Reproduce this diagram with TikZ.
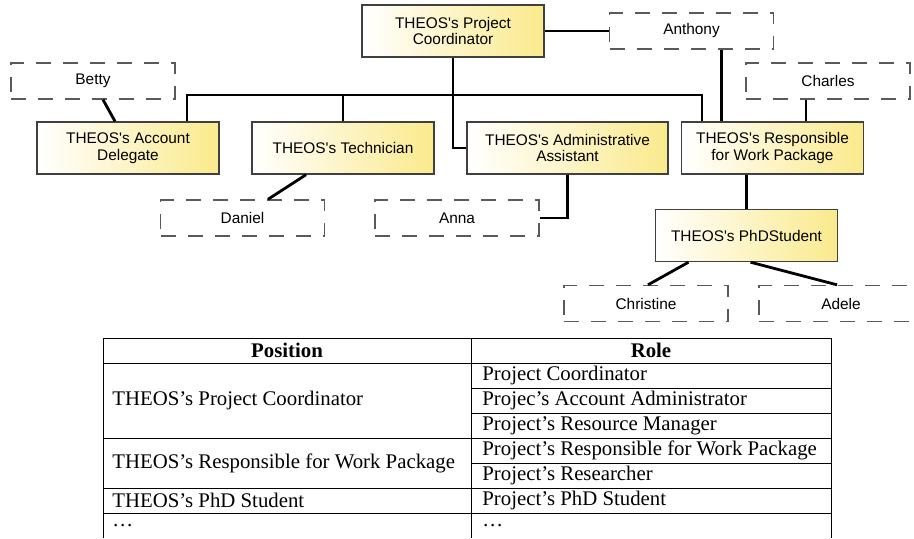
\documentclass[tikz,border=0pt]{standalone}
\usepackage{fontspec}
\setmainfont{Liberation Serif}
\newfontfamily\boxfont{Liberation Sans}

\definecolor{boxyellow}{RGB}{250,234,140}
\definecolor{boxedge}{RGB}{64,64,64}
\definecolor{dashgray}{RGB}{90,90,90}

\begin{document}
\begin{tikzpicture}[x=0.5pt, y=-0.5pt,
        person/.style={draw=boxedge, line width=0.7pt, left color=white, right color=boxyellow,
            minimum width=91pt, minimum height=26pt, inner sep=0pt, align=center,
            font=\boxfont\fontsize{7.7}{8.3}\selectfont},
        member/.style={draw=dashgray, line width=0.7pt, dash pattern=on 7.5pt off 6pt,
            minimum width=82pt, minimum height=18pt, inner sep=0pt,
            font=\boxfont\fontsize{7.7}{9}\selectfont},
        link/.style={line width=1.4pt},
        cell/.style={anchor=west, inner sep=0pt, font=\fontsize{10.4}{12}\selectfont},
        head/.style={inner sep=0pt, font=\bfseries\fontsize{10.4}{12}\selectfont}]
        \useasboundingbox (0,0) rectangle (914,538);

        % positions
        \node (coord) at (453,31) [person] {THEOS's Project\\Coordinator};
        \node (acct) at (128,148) [person] {THEOS's Account\\Delegate};
        \node (tech) at (343,148) [person] {THEOS's Technician};
        \node (admin) at (567.5,148) [person, minimum width=100.5pt] {THEOS's Administrative\\Assistant};
        \node (resp) at (772.5,148) [person] {THEOS's Responsible\\for Work Package};
        \node (phd) at (746.5,235.5) [person] {THEOS's PhDStudent};

        % people
        \node (betty) at (93,81) [member] {Betty};
        \node (anthony) at (691.5,31) [member] {Anthony};
        \node (charles) at (828,81) [member] {Charles};
        \node (daniel) at (242.5,218) [member] {Daniel};
        \node (anna) at (457,218) [member] {Anna};
        \node (christine) at (646,303.5) [member] {Christine};
        \node (adele) at (841,303.5) [member] {Adele};

        % hierarchy
        \coordinate (busL) at (187,95);
        \coordinate (busR) at (702,95);
        \draw [link] (busL |- acct.north) |- (busR) -- (busR |- resp.north);
        \draw [link] (tech.north) -- (tech.north |- busL);
        \draw [link] (coord.south) |- (admin.west);
        \draw [link] (phd.north) -- (phd.north |- resp.south);

        % who holds which position
        \draw [link] (coord.east) -- (anthony.west);
        \draw [link] ([xshift=15pt]anthony.south) -- ([xshift=15pt]anthony.south |- resp.north);
        \draw [link] ([xshift=-11pt]charles.south) -- ([xshift=-11pt]charles.south |- resp.north);
        \draw [link] ([xshift=5pt]betty.south) -- ([xshift=-6.5pt]acct.north);
        \draw [link] ([xshift=-18.5pt]tech.south) -- ([xshift=12.75pt]daniel.north);
        \draw [link] (admin.south) |- (anna.east);
        \draw [link] ([xshift=-29pt]phd.south) -- ([xshift=1pt]christine.north);
        \draw [link] ([xshift=2pt]phd.south) -- ([xshift=-2pt]adele.north);

        % table
        \draw [line width=0.5pt] (103,538) -- (103,338) -- (831,338) -- (831,538);
        \draw [line width=0.5pt] (471,338) -- (471,538);
        \foreach \y in {363,438,488,513}
            \draw [line width=0.5pt] (103,\y) -- (831,\y);
        \foreach \y in {388,413,463}
            \draw [line width=0.5pt] (471,\y) -- (831,\y);

        \node (hpos) at (287,350.5) [head] {Position};
        \node (hrole) at (651,350.5) [head] {Role};

        \node (pos1) at (112,400.5) [cell] {THEOS's Project Coordinator};
        \node (pos2) at (112,463) [cell] {THEOS's Responsible for Work Package};
        \node (pos3) at (112,500.5) [cell] {THEOS's PhD Student};
        \node (pos4) at (112,525.5) [cell] {\ldots};

        \node (role1) at (482,375.5) [cell] {Project Coordinator};
        \node (role2) at (482,400.5) [cell] {Projec's Account Administrator};
        \node (role3) at (482,425.5) [cell] {Project's Resource Manager};
        \node (role4) at (482,450.5) [cell] {Project's Responsible for Work Package};
        \node (role5) at (482,475.5) [cell] {Project's Researcher};
        \node (role6) at (482,500.5) [cell] {Project's PhD Student};
        \node (role7) at (482,525.5) [cell] {\ldots};
    \end{tikzpicture}
\end{document}
